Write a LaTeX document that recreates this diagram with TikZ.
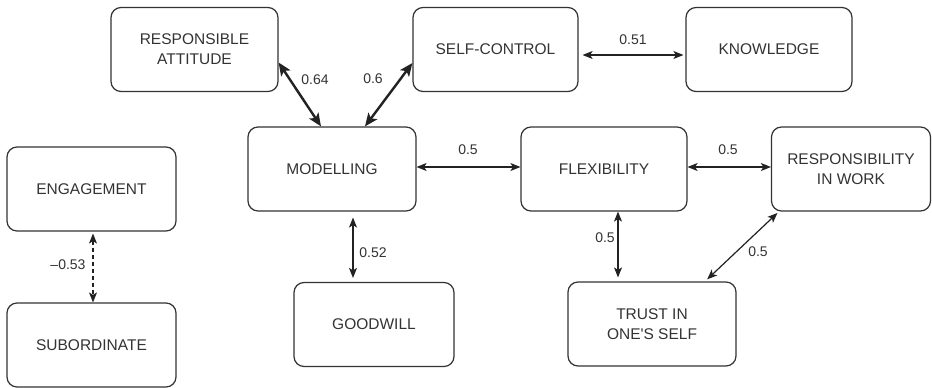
\documentclass[tikz,border=0pt]{standalone}
\usepackage{fontspec}
\setmainfont{Liberation Sans}
\usetikzlibrary{arrows.meta}
\definecolor{ink}{HTML}{333333}
\definecolor{edge}{HTML}{222222}
\tikzset{
  box/.style={draw=ink, line width=1.2pt, rounded corners=10pt, text=ink,
    minimum width=#1, minimum height=84pt, inner sep=0pt, align=center,
    font=\fontsize{15.5}{20}\selectfont},
  box/.default=167pt,
  lbl/.style={text=ink, inner sep=0pt, font=\fontsize{14}{16}\selectfont},
  link/.style={draw=edge, line width=1.2pt,
    {Stealth[length=10pt,width=8pt,inset=2.5pt]}-{Stealth[length=10pt,width=8pt,inset=2.5pt]}},
  strong/.style={draw=edge, line width=2.4pt,
    {Stealth[length=13pt,width=11pt,inset=3pt]}-{Stealth[length=13pt,width=11pt,inset=3pt]}},
  weak/.style={link, dash pattern=on 4pt off 3pt}
}
\begin{document}
\begin{tikzpicture}[x=1pt,y=-1pt]
\useasboundingbox[fill=white] (0,0) rectangle (932,388);

% concept boxes
\node[box] (ra)    at (194.5,49.5) {RESPONSIBLE\\ATTITUDE};
\node[box=165pt] (sc)    at (495.5,49.5) {SELF-CONTROL};
\node[box=166pt] (kn)    at (769,49.5)   {KNOWLEDGE};
\node[box=168pt] (mod)   at (332,169)    {MODELLING};
\node[box=166pt] (flex)  at (604,169)    {FLEXIBILITY};
\node[box=159pt] (riw)   at (851,169)    {RESPONSIBILITY\\IN WORK};
\node[box=169pt] (eng)   at (91.5,189)   {ENGAGEMENT};
\node[box=169pt] (sub)   at (91.5,345)   {SUBORDINATE};
\node[box=160pt] (good)  at (374,324.5)  {GOODWILL};
\node[box=168pt] (trust) at (652,324)    {TRUST IN\\ONE\textquotesingle S SELF};

% correlations
\draw[strong] ([yshift=-13pt]ra.east) -- ([xshift=-11pt]mod.north);
\draw[strong] ([xshift=33pt]mod.north) -- ([yshift=-13.5pt]sc.west);
\draw[link, shorten <=4pt, shorten >=2pt] ([yshift=-5.5pt]sc.east) -- ([yshift=-5.5pt]kn.west);
\draw[link] ([yshift=2pt]mod.east) -- ([yshift=2pt]flex.west);
\draw[link] ([yshift=2pt]flex.east) -- ([yshift=2pt]riw.west);
\draw[link, shorten >=4pt] ([xshift=14pt]flex.south) -- ([xshift=-34pt]trust.north);
\draw[link, shorten <=2pt, shorten >=3pt] ([xshift=8pt]riw.south west) -- ([xshift=53pt]trust.north);
\draw[link, shorten <=6pt, shorten >=4pt] ([xshift=21pt]mod.south) -- ([xshift=-21pt]good.north);
\draw[weak, shorten <=2pt] ([xshift=1.5pt]eng.south) -- ([xshift=1.5pt]sub.north);

% coefficients
\node[lbl] (l1) at (315,80)  {0.64};
\node[lbl] (l2) at (373,79)  {0.6};
\node[lbl] (l3) at (633,40)  {0.51};
\node[lbl] (l4) at (468,150) {0.5};
\node[lbl] (l5) at (728,150) {0.5};
\node[lbl] (l6) at (605,238) {0.5};
\node[lbl] (l7) at (758,252) {0.5};
\node[lbl] (l8) at (373,253) {0.52};
\node[lbl] (l9) at (68,265)  {–0.53};
\end{tikzpicture}
\end{document}
